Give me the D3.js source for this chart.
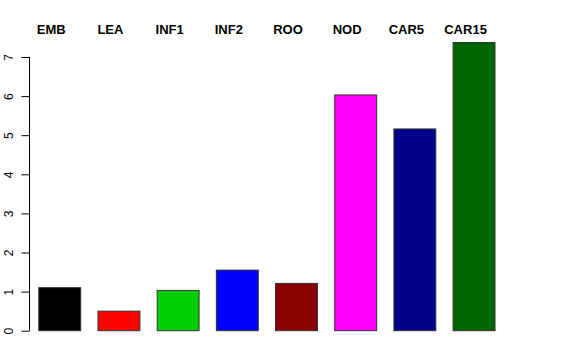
<!DOCTYPE html>
<html><head><meta charset="utf-8">
<script src="https://cdn.jsdelivr.net/npm/d3@7"></script>
<style>body{margin:0;background:#fff}svg{display:block}</style>
</head><body>
<svg id="c" width="576" height="360"></svg>
<script>
const categories = ["EMB","LEA","INF1","INF2","ROO","NOD","CAR5","CAR15"];
const values = [1.10, 0.50, 1.03, 1.55, 1.21, 6.03, 5.16, 7.37];
const colors = ["#000000","#FF0000","#00CD00","#0000FF","#8B0000","#FF00FF","#00008B","#006400"];
const yTicks = [0,1,2,3,4,5,6,7];

const svg = d3.select("#c");
const x = d3.scaleBand().domain(categories).range([38.3, 494.5]).paddingInner(0.292).paddingOuter(0);
const y = d3.scaleLinear().domain([0, 7]).range([330.7, 57]);

svg.append("g").selectAll("rect").data(categories).join("rect")
  .attr("x", d => x(d) + 0.5)
  .attr("y", (d,i) => y(values[i]))
  .attr("width", x.bandwidth())
  .attr("height", (d,i) => y(0) - y(values[i]))
  .attr("fill", (d,i) => colors[i])
  .attr("stroke", "#333")
  .attr("stroke-width", 1);

const axis = d3.axisLeft(y).tickValues(yTicks).tickSize(8).tickPadding(5).tickFormat(d3.format("d"));
const ga = svg.append("g").attr("transform", "translate(29.5,0)").call(axis);
ga.select(".domain").attr("stroke", "#000").attr("d", `M0,${y(0)}V${y(7)}`);
ga.selectAll(".tick line").attr("stroke", "#000");
ga.selectAll(".tick text")
  .attr("font-family", "Liberation Sans, Arial, sans-serif").attr("font-size", 12)
  .attr("fill", "#000")
  .attr("text-anchor", "middle")
  .attr("x", null).attr("dy", null)
  .attr("transform", "translate(-17,0) rotate(-90)")
  .attr("y", 0).attr("dy", "0.0em");

svg.append("g").selectAll("text").data(categories).join("text")
  .attr("x", d => x(d) + x.bandwidth()/2 - 8)
  .attr("y", 33.5)
  .attr("text-anchor", "middle")
  .attr("font-family", "Liberation Sans, Arial, sans-serif")
  .attr("font-weight", "bold")
  .attr("font-size", 13)
  .text(d => d);
</script>
</body></html>
